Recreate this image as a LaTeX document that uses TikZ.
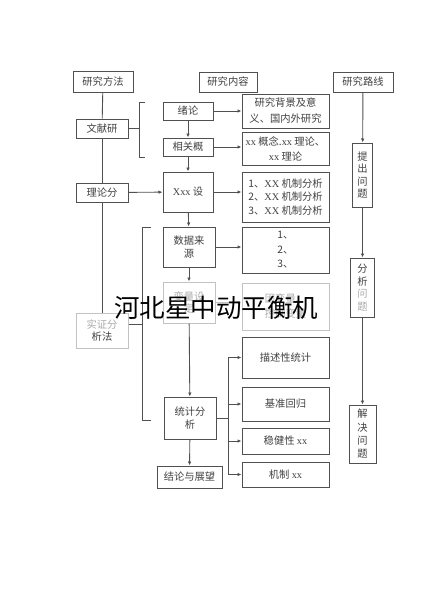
\documentclass[tikz,border=0pt]{standalone}
\usepackage{fontspec}
\setmainfont{Liberation Serif}
\newfontfamily\cjk{Noto Sans CJK SC}
\usetikzlibrary{arrows.meta}
\definecolor{linegray}{RGB}{80,80,80}
\definecolor{textgray}{RGB}{65,65,65}
\definecolor{fadegray}{RGB}{195,195,195}
\definecolor{fadetext}{RGB}{170,170,170}
\newcommand{\enw}[1]{{\rmfamily #1}}

\begin{document}
\begin{tikzpicture}[
    x=1pt, y=-1pt,
    every node/.style={font=\cjk\fontsize{10.3}{12.5}\selectfont, text=textgray},
    box/.style={rectangle, draw=linegray, line width=1pt, fill=white, align=center, inner sep=0pt},
    fadebox/.style={box, draw=fadegray, text=fadetext},
    arrow/.style={-{Latex[length=4pt,width=3.5pt]}, line width=0.9pt, draw=linegray},
    link/.style={line width=0.9pt, draw=linegray},
]
\useasboundingbox (0,0) rectangle (432,600);

% Headers
\node[box, minimum width=60pt, minimum height=21pt] (method) at (103,81.5) {研究方法};
\node[box, minimum width=58pt, minimum height=20pt] (content) at (228,82) {研究内容};
\node[box, minimum width=60pt, minimum height=20pt] (route) at (363,82) {研究路线};

% Method column
\node[box, minimum width=52pt, minimum height=19pt] (wenxian) at (102,128.5) {文献研};
\node[box, minimum width=52pt, minimum height=19pt] (lilun) at (102,192.5) {理论分};
\node[box, draw=fadegray, minimum width=52pt, minimum height=35pt] (shizheng) at (102,330.5) {{\color{fadetext}实证分}\\析法};

% Content column
\node[box, minimum width=50pt, minimum height=18pt] (xulun) at (188,111) {绪论};
\node[box, minimum width=50pt, minimum height=18pt] (gainian) at (188,147) {相关概};
\node[box, minimum width=50pt, minimum height=40pt] (jiashe) at (188,192) {\enw{Xxx} 设};
\node[box, minimum width=52pt, minimum height=40pt] (shuju) at (189,247) {数据来\\源};
\node[fadebox, minimum width=52pt, minimum height=41pt] (bianliang) at (189,302.5) {变量设\\定};
\node[box, minimum width=52pt, minimum height=42pt] (tongji) at (190,418) {统计分\\析};
\node[box, minimum width=65pt, minimum height=22pt] (jielun) at (189.5,477) {结论与展望};

% Detail column
\node[box, minimum width=87pt, minimum height=34pt, font=\cjk\fontsize{10.3}{16}\selectfont] (beijing) at (285.5,111) {研究背景及意\\义、国内外研究};
\node[box, minimum width=87pt, minimum height=33pt, font=\cjk\fontsize{10.3}{15}\selectfont] (lilunxx) at (285.5,148.5) {\enw{xx} 概念.\enw{xx} 理论、\\\enw{xx} 理论};
\node[box, minimum width=87pt, minimum height=50pt, font=\cjk\fontsize{10.3}{13.5}\selectfont] (jizhi) at (285.5,197) {1、\enw{XX} 机制分析\\2、\enw{XX} 机制分析\\3、\enw{XX} 机制分析};
\node[box, minimum width=87pt, minimum height=46pt, font=\cjk\fontsize{10.3}{14.5}\selectfont] (laiyuan) at (285.5,250) {1、\\2、\\3、};
\node[fadebox, minimum width=87pt, minimum height=47pt, font=\cjk\fontsize{10.3}{15}\selectfont] (kongzhi) at (285.5,306.5) {因变量、\\控制变量};
\node[box, minimum width=87pt, minimum height=41pt] (miaoshu) at (285.5,357.5) {描述性统计};
\node[box, minimum width=87pt, minimum height=34pt] (jizhun) at (285.5,404) {基准回归};
\node[box, minimum width=87pt, minimum height=26pt] (wenjian) at (285.5,441) {稳健性 \enw{xx}};
\node[box, minimum width=87pt, minimum height=25pt] (jizhixx) at (285.5,474.5) {机制 \enw{xx}};

% Route column
\node[box, minimum width=20pt, minimum height=64pt] (tichu) at (362.5,175) {提\\出\\问\\题};
\node[box, minimum width=24pt, minimum height=59pt] (fenxi) at (362.5,287.5) {分\\析\\{\color{fadetext}问}\\{\color{fadetext}题}};
\node[box, minimum width=27pt, minimum height=58pt, font=\cjk\fontsize{10.3}{13.3}\selectfont] (jiejue) at (362.5,434) {解\\决\\问\\题};

% Method links
\draw[link] (method) -- (wenxian);
\draw[link] (wenxian) -- (lilun);
\draw[link] (lilun) -- (shizheng);
\draw[arrow] (lilun) -- (jiashe);

% Brackets
\coordinate (brA) at (139,128.5);
\draw[link] (145,102) -- (brA |- 0,102) -- (brA |- 0,157) -- (145,157);
\draw[link] (wenxian.east) -- (brA);
\coordinate (brB) at (142,324.5);
\draw[link] (151,227) -- (brB |- 0,227) -- (brB |- 0,420) -- (151,420);
\draw[link] (shizheng.east |- brB) -- (brB);

% Content links
\draw[arrow] (xulun) -- (gainian);
\draw[arrow] (gainian) -- (jiashe);
\draw[arrow] (jiashe) -- (shuju);
\draw[arrow] (shuju) -- (bianliang);
\draw[arrow] (bianliang) -- (tongji);
\draw[arrow] (tongji) -- (jielun);

\draw[arrow] (xulun) -- (beijing.west |- xulun);
\draw[arrow] (gainian) -- (lilunxx.west |- gainian);
\draw[arrow] (jiashe) -- (jizhi.west |- jiashe);
\draw[arrow] (shuju) -- (laiyuan.west |- shuju);
\draw[arrow, draw=fadegray] (bianliang) -- (kongzhi.west |- bianliang);

% Statistics branch
\coordinate (split) at (228,418);
\draw[link] (tongji.east |- split) -- (split);
\draw[link] (split |- miaoshu.west) -- (split |- jizhixx.west);
\draw[arrow] (split |- miaoshu.west) -- (miaoshu.west);
\draw[arrow] (split |- jizhun.west) -- (jizhun.west);
\draw[arrow] (split |- wenjian.west) -- (wenjian.west);
\draw[arrow] (split |- jizhixx.west) -- (jizhixx.west);

% Route links
\draw[arrow] (route) -- (tichu);
\draw[arrow] (tichu) -- (fenxi);
\draw[arrow] (fenxi) -- (jiejue);

% Watermark
\node[font=\cjk\fontsize{25.5}{26}\selectfont, text=black] (mark) at (216,308) {河北星中动平衡机};

\end{tikzpicture}
\end{document}
